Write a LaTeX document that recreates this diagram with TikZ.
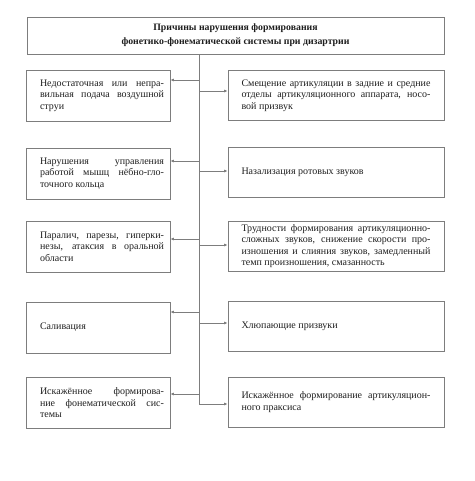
\documentclass[tikz,border=0pt]{standalone}
\usepackage{fontspec}
\setmainfont{Liberation Serif}
\usepackage{tikz}
\usetikzlibrary{positioning, calc, arrows.meta}
\definecolor{linegray}{RGB}{125,125,125}
\definecolor{textgray}{RGB}{30,30,30}
\tikzstyle{Arrow} = [
%small filled tip at the box edge
draw=linegray, line width=0.7pt,
-{Latex[length=3.5pt, width=3pt]}
]

\begin{document}
\begin{tikzpicture}[x=1pt, y=-1pt,
			head/.style = {rectangle, draw=linegray, line width=0.7pt, text=textgray, align=center, minimum width=417pt, minimum height=37pt, font=\fontsize{9.8}{14}\selectfont\bfseries},
			cause/.style = {rectangle, draw=linegray, line width=0.7pt, text=textgray, align=justify, text width=132pt, minimum width=144pt, minimum height=51pt, inner sep=0pt, font=\fontsize{10}{11.5}\selectfont, execute at begin node={\leftskip=8pt\relax}},
			effect/.style = {rectangle, draw=linegray, line width=0.7pt, text=textgray, align=justify, text width=189pt, minimum width=216pt, minimum height=50pt, inner sep=0pt, font=\fontsize{10}{11.5}\selectfont},
		]
		\useasboundingbox (0,0) rectangle (474,481);

		\node[head](T) at (235.5,35.5){Причины нарушения формирования\\фонетико-фонематической системы при дизартрии};

		\node[cause](L1) at (98,95.5){Недостаточная или непра-\linebreak вильная подача воздушной струи};
		\node[cause](L2) at (98,173.5){Нарушения управления\linebreak работой мышц нёбно-гло-\linebreak точного кольца};
		\node[cause](L3) at (98,246.5){Паралич, парезы, гиперки-\linebreak незы, атаксия в оральной\linebreak области};
		\node[cause](L4) at (98,327.5){\leftskip=14pt Саливация};
		\node[cause](L5) at (98,403){\leftskip=14pt Искажённое формирова-\linebreak ние фонематической сис-\linebreak темы};

		\node[effect](R1) at (336,95.5){Смещение артикуляции в задние и средние\linebreak отделы артикуляционного аппарата, носо-\linebreak вой призвук};
		\node[effect](R2) at (336,172){Назализация ротовых звуков};
		\node[effect](R3) at (336,246){Трудности формирования артикуляционно-\linebreak сложных звуков, снижение скорости про-\linebreak изношения и слияния звуков, замедленный\linebreak темп произношения, смазанность};
		\node[effect](R4) at (336,326){Хлюпающие призвуки};
		\node[effect](R5) at (336,402){Искажённое формирование артикуляцион-\linebreak ного праксиса};

		\coordinate(a1) at (199.5,80);
		\coordinate(b1) at (199.5,91);
		\coordinate(a2) at (199.5,161);
		\coordinate(b2) at (199.5,171);
		\coordinate(a3) at (199.5,239);
		\coordinate(b3) at (199.5,245);
		\coordinate(a4) at (199.5,312);
		\coordinate(b4) at (199.5,323);
		\coordinate(a5) at (199.5,394);
		\coordinate(b5) at (199.5,404);

		\draw[Arrow](T.south -| b5)--(b5)--(b5 -| R5.west);
		\foreach \i in {1,...,5}{
			\draw[Arrow](a\i)--(a\i -| L\i.east);
		}
		\foreach \i in {1,...,4}{
			\draw[Arrow](b\i)--(b\i -| R\i.west);
		}
	\end{tikzpicture}
\end{document}
